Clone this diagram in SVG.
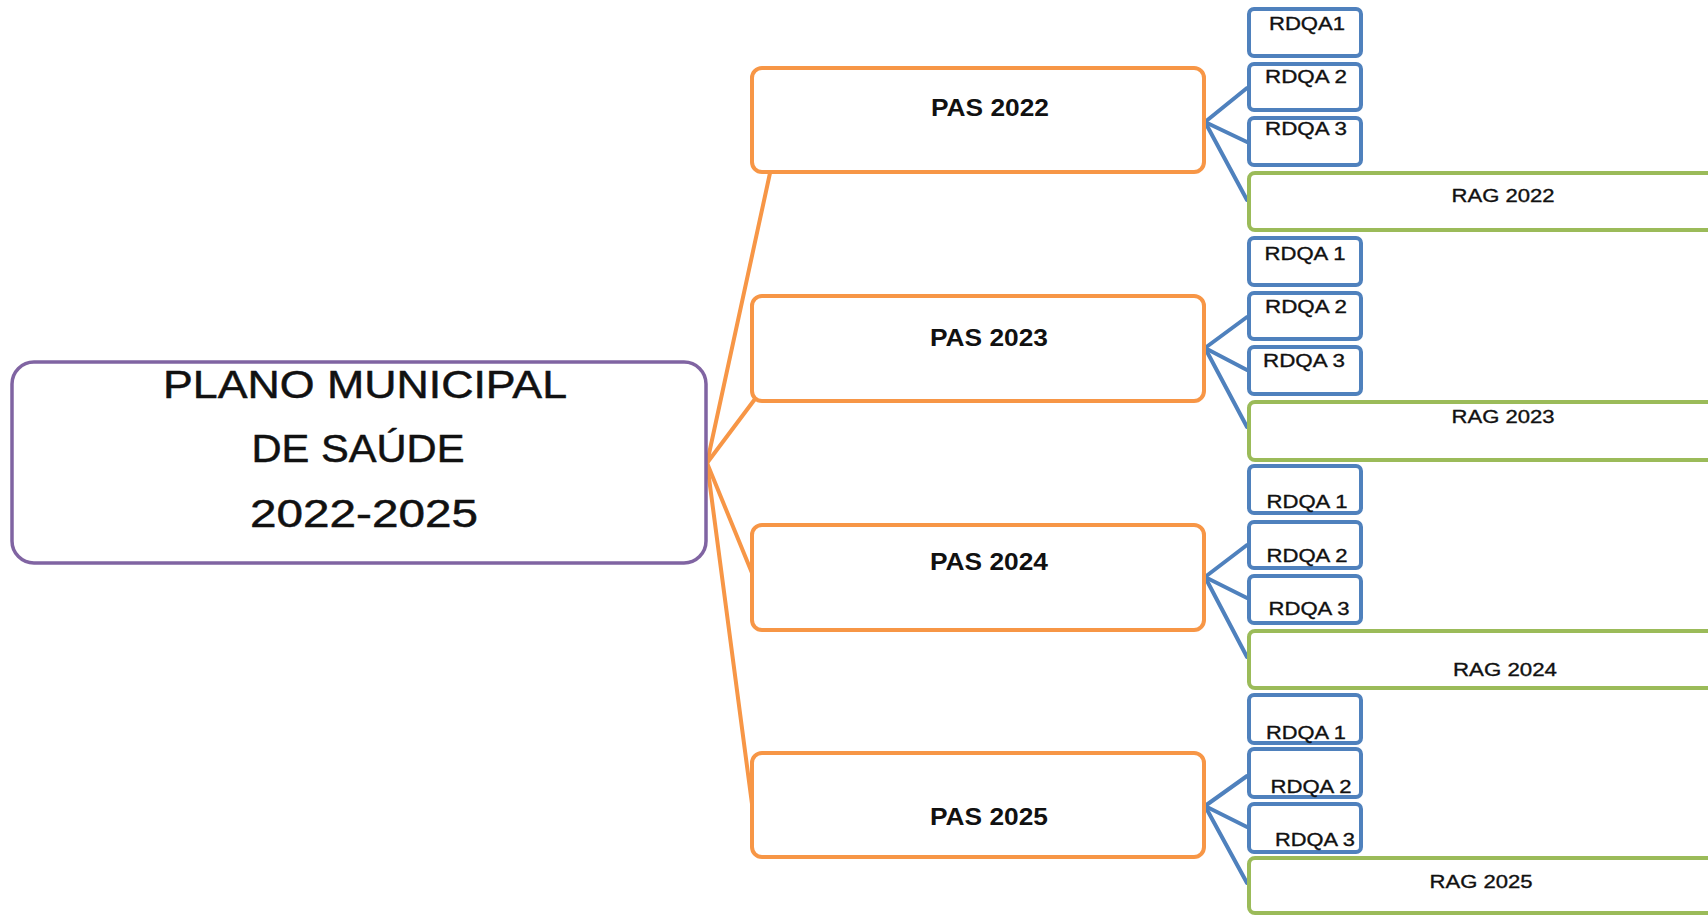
<svg xmlns="http://www.w3.org/2000/svg" width="1708" height="915" viewBox="0 0 1708 915">
<style>
.main{fill:#fff;stroke:#8064A2;stroke-width:3.5}
.pas{fill:#fff;stroke:#F79646;stroke-width:4}
.rdqa{fill:#fff;stroke:#4F81BD;stroke-width:4}
.rag{fill:#fff;stroke:#9BBB59;stroke-width:4}
.oc{stroke:#F79646;stroke-width:4;fill:none;stroke-linecap:round}
.bc{stroke:#4F81BD;stroke-width:4;fill:none;stroke-linecap:round}
text{font-family:"Liberation Sans",Arial,sans-serif;fill:#111;text-anchor:middle}
.t1{font-size:39px;stroke:#111;stroke-width:0.5}
.t2{font-size:23px;font-weight:bold}
.t3{font-size:18px;stroke:#111;stroke-width:0.35}
</style>
<rect width="1708" height="915" fill="#fff"/>
<g id="connectors">
<line class="oc" x1="707" y1="463" x2="770" y2="173"/>
<line class="oc" x1="707" y1="463" x2="755" y2="399"/>
<line class="oc" x1="707" y1="463" x2="752" y2="573"/>
<line class="oc" x1="707" y1="463" x2="752" y2="804"/>
<line class="bc" x1="1205" y1="122" x2="1247" y2="88"/>
<line class="bc" x1="1205" y1="122" x2="1247" y2="142"/>
<line class="bc" x1="1205" y1="122" x2="1247" y2="200"/>
<line class="bc" x1="1205" y1="348" x2="1247" y2="317"/>
<line class="bc" x1="1205" y1="348" x2="1247" y2="370"/>
<line class="bc" x1="1205" y1="348" x2="1247" y2="427"/>
<line class="bc" x1="1205" y1="577" x2="1247" y2="545"/>
<line class="bc" x1="1205" y1="577" x2="1247" y2="598"/>
<line class="bc" x1="1205" y1="577" x2="1247" y2="657"/>
<line class="bc" x1="1205" y1="806" x2="1247" y2="776"/>
<line class="bc" x1="1205" y1="806" x2="1247" y2="827"/>
<line class="bc" x1="1205" y1="806" x2="1247" y2="883"/>
</g>
<g id="plano">
<rect class="main" x="12" y="362" width="694" height="201" rx="22"/>
<text class="t1" x="365" y="398" textLength="404" lengthAdjust="spacingAndGlyphs">PLANO MUNICIPAL</text>
<text class="t1" x="358" y="462" textLength="213" lengthAdjust="spacingAndGlyphs">DE SAÚDE</text>
<text class="t1" x="364" y="527" textLength="228" lengthAdjust="spacingAndGlyphs">2022-2025</text>
</g>
<g id="pas2022"><rect class="pas" x="752" y="68" width="452" height="104" rx="10"/><text class="t2" x="990" y="116" textLength="118" lengthAdjust="spacingAndGlyphs">PAS 2022</text></g>
<g id="pas2023"><rect class="pas" x="752" y="296" width="452" height="105" rx="10"/><text class="t2" x="989" y="346" textLength="118" lengthAdjust="spacingAndGlyphs">PAS 2023</text></g>
<g id="pas2024"><rect class="pas" x="752" y="525" width="452" height="105" rx="10"/><text class="t2" x="989" y="570" textLength="118" lengthAdjust="spacingAndGlyphs">PAS 2024</text></g>
<g id="pas2025"><rect class="pas" x="752" y="753" width="452" height="104" rx="10"/><text class="t2" x="989" y="825" textLength="118" lengthAdjust="spacingAndGlyphs">PAS 2025</text></g>

<g id="rdqa1-2022"><rect class="rdqa" x="1249" y="9" width="112" height="47" rx="5"/><text class="t3" x="1307" y="30" textLength="76" lengthAdjust="spacingAndGlyphs">RDQA1</text></g>
<g id="rdqa2-2022"><rect class="rdqa" x="1249" y="64" width="112" height="46" rx="5"/><text class="t3" x="1306" y="83" textLength="82" lengthAdjust="spacingAndGlyphs">RDQA 2</text></g>
<g id="rdqa3-2022"><rect class="rdqa" x="1249" y="118" width="112" height="47" rx="5"/><text class="t3" x="1306" y="135" textLength="82" lengthAdjust="spacingAndGlyphs">RDQA 3</text></g>
<g id="rag2022"><rect class="rag" x="1249" y="173" width="480" height="57" rx="6"/><text class="t3" x="1503" y="202" textLength="103" lengthAdjust="spacingAndGlyphs">RAG 2022</text></g>

<g id="rdqa1-2023"><rect class="rdqa" x="1249" y="238" width="112" height="47" rx="5"/><text class="t3" x="1305" y="260" textLength="81" lengthAdjust="spacingAndGlyphs">RDQA 1</text></g>
<g id="rdqa2-2023"><rect class="rdqa" x="1249" y="293" width="112" height="46" rx="5"/><text class="t3" x="1306" y="313" textLength="82" lengthAdjust="spacingAndGlyphs">RDQA 2</text></g>
<g id="rdqa3-2023"><rect class="rdqa" x="1249" y="347" width="112" height="47" rx="5"/><text class="t3" x="1304" y="367" textLength="82" lengthAdjust="spacingAndGlyphs">RDQA 3</text></g>
<g id="rag2023"><rect class="rag" x="1249" y="402" width="480" height="58" rx="6"/><text class="t3" x="1503" y="423" textLength="103" lengthAdjust="spacingAndGlyphs">RAG 2023</text></g>

<g id="rdqa1-2024"><rect class="rdqa" x="1249" y="466" width="112" height="47" rx="5"/><text class="t3" x="1307" y="508" textLength="81" lengthAdjust="spacingAndGlyphs">RDQA 1</text></g>
<g id="rdqa2-2024"><rect class="rdqa" x="1249" y="522" width="112" height="46" rx="5"/><text class="t3" x="1307" y="562" textLength="81" lengthAdjust="spacingAndGlyphs">RDQA 2</text></g>
<g id="rdqa3-2024"><rect class="rdqa" x="1249" y="576" width="112" height="47" rx="5"/><text class="t3" x="1309" y="615" textLength="81" lengthAdjust="spacingAndGlyphs">RDQA 3</text></g>
<g id="rag2024"><rect class="rag" x="1249" y="631" width="480" height="57" rx="6"/><text class="t3" x="1505" y="676" textLength="104" lengthAdjust="spacingAndGlyphs">RAG 2024</text></g>

<g id="rdqa1-2025"><rect class="rdqa" x="1249" y="695" width="112" height="48" rx="5"/><text class="t3" x="1306" y="739" textLength="80" lengthAdjust="spacingAndGlyphs">RDQA 1</text></g>
<g id="rdqa2-2025"><rect class="rdqa" x="1249" y="749" width="112" height="48" rx="5"/><text class="t3" x="1311" y="793" textLength="81" lengthAdjust="spacingAndGlyphs">RDQA 2</text></g>
<g id="rdqa3-2025"><rect class="rdqa" x="1249" y="804" width="112" height="48" rx="5"/><text class="t3" x="1315" y="846" textLength="80" lengthAdjust="spacingAndGlyphs">RDQA 3</text></g>
<g id="rag2025"><rect class="rag" x="1249" y="858" width="480" height="55" rx="6"/><text class="t3" x="1481" y="888" textLength="103" lengthAdjust="spacingAndGlyphs">RAG 2025</text></g>
</svg>
